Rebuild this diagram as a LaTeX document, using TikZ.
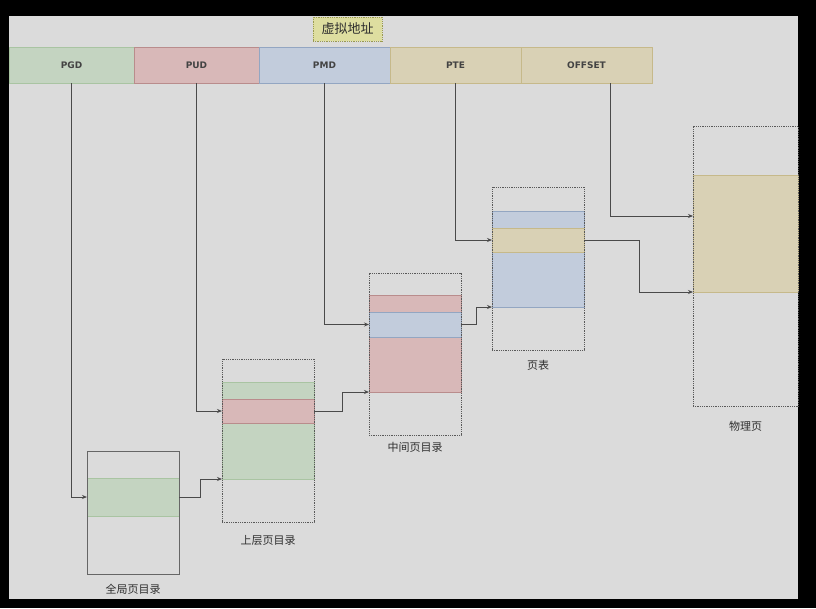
\documentclass[tikz,border=0pt]{standalone}
\usepackage{fontspec}
\setmainfont{Noto Sans}
\newfontfamily\cjk{Noto Sans CJK SC}
\newfontfamily\fieldfont{DejaVu Sans}
\usetikzlibrary{arrows.meta,calc}

\definecolor{bgcol}{HTML}{DBDBDB}
\definecolor{gfill}{HTML}{C4D4C1}
\definecolor{gline}{HTML}{A9C4A2}
\definecolor{rfill}{HTML}{D8B8B8}
\definecolor{rline}{HTML}{B98C8C}
\definecolor{bfill}{HTML}{C2CCDC}
\definecolor{bline}{HTML}{93A6C2}
\definecolor{yfill}{HTML}{D9D1B5}
\definecolor{yline}{HTML}{C6B98A}
\definecolor{tfill}{HTML}{DEDEA0}
\definecolor{tline}{HTML}{9A9A50}
\definecolor{wire}{HTML}{4A4A4A}
\definecolor{ink}{HTML}{2E2E2E}

\tikzset{
  box/.style={rectangle, anchor=north west, inner sep=0pt, outer sep=0pt},
  field/.style={box, minimum height=36pt, font=\fieldfont\bfseries\fontsize{9}{10}\selectfont, text=ink!90},
  frame/.style={box, draw=gray!70!black, densely dotted, line width=0.8pt},
  solidframe/.style={box, draw=gray!80!black, line width=0.8pt},
  band/.style={box, line width=0.7pt},
  caption/.style={font=\cjk\fontsize{11}{13}\selectfont, text=ink},
  arr/.style={draw=wire, line width=0.9pt, -{Stealth[length=5pt,width=4pt]}},
}

\begin{document}
\begin{tikzpicture}[x=1pt,y=-1pt]
  % canvas
  \fill[black] (0,0) rectangle (816,608);
  \fill[bgcol] (9,16) rectangle (798,599);
  \useasboundingbox (0,0) rectangle (816,608);

  % address title
  \node[box, fill=tfill, draw=tline, densely dotted, line width=0.8pt,
        minimum width=69pt, minimum height=24pt,
        font=\cjk\fontsize{13}{15}\selectfont, text=ink] (title) at (313,17) {虚拟地址};

  % virtual address fields
  \node[field, fill=gfill, draw=gline, minimum width=125pt] (pgd) at (9,47) {PGD};
  \node[field, fill=rfill, draw=rline, minimum width=125pt] (pud) at (134,47) {PUD};
  \node[field, fill=bfill, draw=bline, minimum width=131pt] (pmd) at (259,47) {PMD};
  \node[field, fill=yfill, draw=yline, minimum width=131pt] (pte) at (390,47) {PTE};
  \node[field, fill=yfill, draw=yline, minimum width=131pt] (off) at (521,47) {OFFSET};

  % global page directory
  \node[solidframe, minimum width=92pt, minimum height=123pt] (gdir) at (87,451) {};
  \node[band, fill=gfill, draw=gline, minimum width=92pt, minimum height=38pt] (gband) at (87,478) {};
  \draw[gray!80!black, line width=0.8pt] (gdir.north west) rectangle (gdir.south east);
  \node[caption] (gcap) at ([yshift=-15pt]gdir.south) {全局页目录};

  % upper page directory
  \node[band, fill=gfill, draw=gline, minimum width=92pt, minimum height=97pt] (ugreen) at (222,382) {};
  \node[band, fill=rfill, draw=rline, minimum width=92pt, minimum height=24pt] (ured) at (222,399) {};
  \node[frame, minimum width=92pt, minimum height=163pt] (udir) at (222,359) {};
  \node[caption] (ucap) at ([yshift=-18pt]udir.south) {上层页目录};

  % middle page directory
  \node[band, fill=rfill, draw=rline, minimum width=92pt, minimum height=97pt] (mred) at (369,295) {};
  \node[band, fill=bfill, draw=bline, minimum width=92pt, minimum height=25pt] (mblue) at (369,312) {};
  \node[frame, minimum width=92pt, minimum height=162pt] (mdir) at (369,273) {};
  \node[caption] (mcap) at ([yshift=-12pt]mdir.south) {中间页目录};

  % page table
  \node[band, fill=bfill, draw=bline, minimum width=92pt, minimum height=96pt] (pblue) at (492,211) {};
  \node[band, fill=yfill, draw=yline, minimum width=92pt, minimum height=24pt] (pyel) at (492,228) {};
  \node[frame, minimum width=92pt, minimum height=163pt] (ptab) at (492,187) {};
  \node[caption] (pcap) at ([yshift=-15pt]ptab.south) {页表};

  % physical page
  \node[band, fill=yfill, draw=yline, minimum width=105pt, minimum height=117pt] (frame) at (693,175) {};
  \node[frame, minimum width=105pt, minimum height=280pt] (phys) at (693,126) {};
  \node[caption] (fcap) at ([yshift=-20pt]phys.south) {物理页};

  % index lines from the address fields
  \draw[arr] (pgd.south) |- (gband.west);
  \draw[arr] (pud.south) |- (ured.west);
  \draw[arr] (pmd.south) |- (mblue.west);
  \draw[arr] (pte.south) |- (pyel.west);
  \coordinate (offdrop) at ([xshift=23.5pt]off.south);
  \coordinate (offin) at ($(frame.north west)+(0,41)$);
  \draw[arr] (offdrop) |- (offin);

  % table entries pointing to the next level
  \draw[arr] (gband.east) -- ++(21,0) |- (ugreen.south west);
  \draw[arr] (ured.east) -- ++(28,0) |- (mred.south west);
  \draw[arr] (mblue.east) -- ++(15,0) |- (pblue.south west);
  \draw[arr] (pyel.east) -- ++(55,0) |- (frame.south west);
\end{tikzpicture}
\end{document}
